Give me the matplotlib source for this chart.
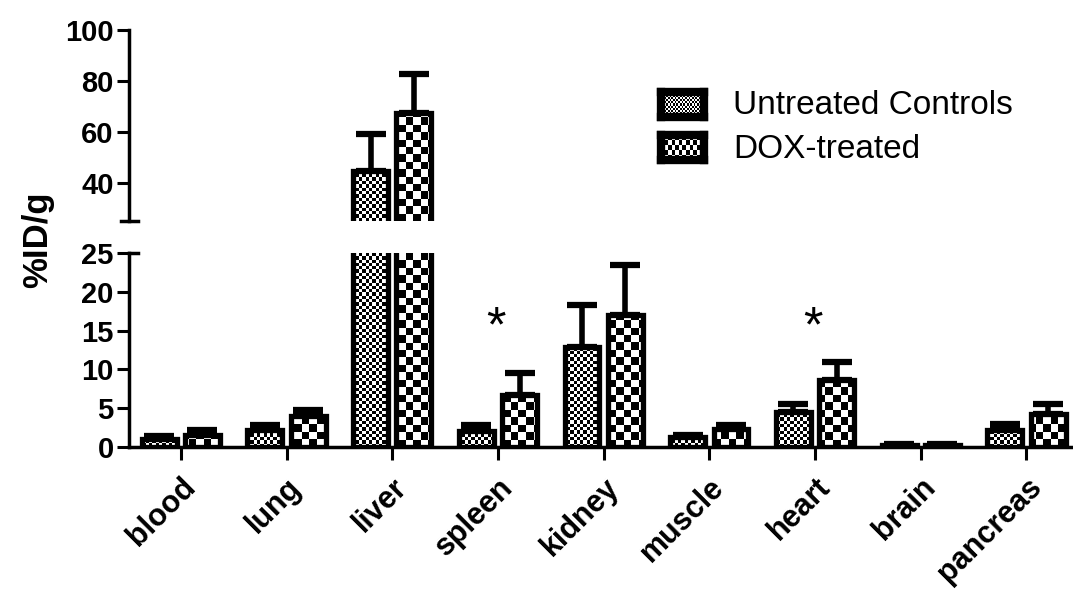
import numpy as np
import matplotlib
matplotlib.use("Agg")
import matplotlib.pyplot as plt

plt.rcParams['font.family'] = ['Liberation Sans', 'DejaVu Sans']

# biodistribution, %ID/g (mean and upper SEM)
tissues = ["blood", "lung", "liver", "spleen", "kidney", "muscle", "heart", "brain", "pancreas"]
untreated = [1.05, 2.2, 44.7, 2.1, 12.9, 1.3, 4.5, 0.3, 2.15]
untreated_err = [0.35, 0.65, 14.5, 0.75, 5.4, 0.3, 1.0, 0.15, 0.75]
dox = [1.6, 4.0, 67.5, 6.7, 17.0, 2.37, 8.6, 0.3, 4.2]
dox_err = [0.55, 0.8, 15.2, 2.9, 6.5, 0.5, 2.3, 0.15, 1.4]
significant = ["spleen", "heart"]
series_names = ["Untreated Controls", "DOX-treated"]

W, H = 1073, 592
fig = plt.figure(figsize=(W / 100, H / 100), dpi=100)

x = np.arange(len(tissues))
bw = 0.33
off = 0.205

ax_lo = fig.add_axes([129 / W, 1 - 447 / H, 1 - 129 / W, 194 / H])
ax_hi = fig.add_axes([129 / W, 1 - 221 / H, 1 - 129 / W, 191 / H])
xlim = (-0.49, 8.44)


def checker(ax, cell):
    # checkerboard covering the whole axes, one cell = `cell` pixels
    bb = ax.get_window_extent()
    nx = int(bb.width / cell) + 1
    ny = int(bb.height / cell) + 1
    return (np.indices((ny, nx)).sum(0) % 2).astype(float)


def draw_bars(ax, ylim):
    ax.set_xlim(*xlim)
    ax.set_ylim(*ylim)
    for vals, errs, dx, cell in [(untreated, untreated_err, -off, 3.3),
                                 (dox, dox_err, off, 7.5)]:
        vals = np.array(vals)
        errs = np.array(errs)
        # skip error bars that end below this panel
        show = vals + errs > ylim[0]
        ax.errorbar(x[show] + dx, vals[show], yerr=[np.zeros(show.sum()), errs[show]],
                    fmt='none', ecolor='black', elinewidth=4, capsize=11,
                    capthick=4.5, zorder=2)
        bars = ax.bar(x + dx, vals, bw, facecolor='none', edgecolor='black',
                      linewidth=3.8, zorder=3)
        pat = checker(ax, cell)
        for b in bars:
            im = ax.imshow(pat, cmap='gray', vmin=0, vmax=1, interpolation='nearest',
                           extent=(xlim[0], xlim[1], ylim[0], ylim[1]), origin='lower',
                           aspect='auto', zorder=2.5)
            im.set_clip_path(b)
    ax.set_xlim(*xlim)
    ax.set_ylim(*ylim)


draw_bars(ax_lo, (0, 25))
draw_bars(ax_hi, (25, 100))

for ax in (ax_lo, ax_hi):
    ax.spines['top'].set_visible(False)
    ax.spines['right'].set_visible(False)
    ax.spines['left'].set_linewidth(2.5)
    ax.spines['bottom'].set_linewidth(2.5)
    ax.tick_params(axis='y', direction='out', length=9, width=2.2, pad=2)

ax_lo.set_yticks([0, 5, 10, 15, 20, 25])
ax_lo.set_yticklabels(["0", "5", "10", "15", "20", "25"], fontweight='bold', fontsize=21)
ax_lo.set_xticks(x)
ax_lo.set_xticklabels(tissues, rotation=45, ha='right', va='top',
                      rotation_mode='anchor', fontweight='bold', fontsize=22)
ax_lo.tick_params(axis='x', direction='out', length=9, width=2.2, pad=9)

ax_hi.spines['bottom'].set_visible(False)
ax_hi.set_xticks([])
ax_hi.set_yticks([40, 60, 80, 100])
ax_hi.set_yticklabels(["40", "60", "80", "100"], fontweight='bold', fontsize=21)

# break marks on the y axis
ax_lo.plot([0, 0.01], [1, 1], color='black', lw=2.5, transform=ax_lo.transAxes, clip_on=False)
ax_hi.plot([-0.008, 0.01], [0, 0], color='black', lw=2.5, transform=ax_hi.transAxes, clip_on=False)

for name in significant:
    i = tissues.index(name)
    ax_lo.text(i - 0.02, 15.3, "*", ha='center', va='center', fontsize=36)

fig.text(38 / W, 1 - 240 / H, "%ID/g", rotation=90, ha='center', va='center',
         fontsize=25, fontweight='bold')

# legend swatches
for k, (name, cell) in enumerate(zip(series_names, [1.2, 2.4])):
    top = 92 + k * 43
    sw = fig.add_axes([661 / W, 1 - (top + 25) / H, 43 / W, 25 / H])
    pat = (np.indices((int(14 / cell), int(30 / cell))).sum(0) % 2).astype(float)
    sw.imshow(pat, cmap='gray', vmin=0, vmax=1, interpolation='nearest', aspect='auto')
    sw.set_xticks([])
    sw.set_yticks([])
    for s in sw.spines.values():
        s.set_linewidth(6)
    fig.text(733 / W, 1 - (top + 14) / H, name, ha='left', va='center', fontsize=24)

fig.savefig("out.png", dpi=100)
